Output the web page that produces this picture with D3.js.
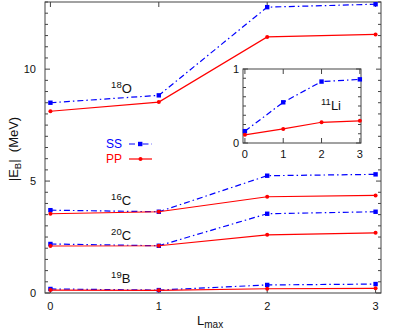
<!DOCTYPE html>
<html>
<head>
<meta charset="utf-8">
<script src="https://cdn.jsdelivr.net/npm/d3@7"></script>
<style>
  body { margin: 0; background: #fff; }
  svg { display: block; font-family: 'Liberation Sans', Arial, sans-serif; }
</style>
</head>
<body>
<div id="chart"></div>
<script>
// L_max values
const lmax = [0, 1, 2, 3];

// binding energies |E_B| (MeV), SS = blue dash-dot, PP = red solid
const nuclei = ['18O', '16C', '20C', '19B'];
const ssO18 = [8.50, 8.83, 12.77, 12.90];
const ppO18 = [8.12, 8.53, 11.44, 11.55];
const ssC16 = [3.70, 3.63, 5.24, 5.30];
const ppC16 = [3.54, 3.63, 4.30, 4.36];
const ssC20 = [2.19, 2.11, 3.54, 3.63];
const ppC20 = [2.10, 2.11, 2.60, 2.69];
const ssB19 = [0.18, 0.13, 0.36, 0.40];
const ppB19 = [0.13, 0.12, 0.19, 0.21];

// inset: 11Li
const ssLi11 = [0.16, 0.55, 0.83, 0.86];
const ppLi11 = [0.11, 0.19, 0.28, 0.30];

const yTicks = [0, 5, 10];
const xTicks = [0, 1, 2, 3];

const W = 396, H = 332;
const BLUE = '#0000ff', RED = '#ff0000', AX = '#444';
const DASH = '6,3,1.5,3';

const svg = d3.select('#chart').append('svg')
  .attr('width', W).attr('height', H);

function panel(g, x, y, opts) {
  const [x0, x1] = x.range();
  const [y0, y1] = y.range();
  // frame
  g.append('rect').attr('x', x0).attr('y', y1).attr('width', x1 - x0).attr('height', y0 - y1)
    .attr('fill', '#fff').attr('stroke', AX).attr('stroke-width', 1);
  // y ticks both sides
  opts.yMinor.forEach(v => {
    const len = opts.yMajor.includes(v) ? 5 : 3;
    g.append('line').attr('x1', x0).attr('x2', x0 + len).attr('y1', y(v)).attr('y2', y(v)).attr('stroke', AX);
    g.append('line').attr('x1', x1).attr('x2', x1 - len).attr('y1', y(v)).attr('y2', y(v)).attr('stroke', AX);
  });
  opts.yMajor.forEach(v => {
    g.append('text').attr('x', x0 - opts.yLabGap).attr('y', y(v)).attr('dy', '0.35em')
      .attr('text-anchor', 'end').attr('font-size', opts.fs).attr('fill', '#111').text(v);
  });
  xTicks.forEach(v => {
    g.append('line').attr('x1', x(v)).attr('x2', x(v)).attr('y1', y0).attr('y2', y0 - 5).attr('stroke', AX);
    g.append('line').attr('x1', x(v)).attr('x2', x(v)).attr('y1', y1).attr('y2', y1 + 5).attr('stroke', AX);
    g.append('text').attr('x', x(v)).attr('y', y0 + opts.xLabGap)
      .attr('text-anchor', 'middle').attr('font-size', opts.fs).attr('fill', '#111').text(v);
  });
}

function series(g, x, y, vals, kind) {
  const line = d3.line().x((d, i) => x(lmax[i])).y(d => y(d));
  const blue = kind === 'ss';
  g.append('path').attr('d', line(vals)).attr('fill', 'none')
    .attr('stroke', blue ? BLUE : RED).attr('stroke-width', 1.2)
    .attr('stroke-dasharray', blue ? DASH : null);
  vals.forEach((v, i) => {
    if (blue) {
      g.append('rect').attr('x', x(lmax[i]) - 2.2).attr('y', y(v) - 2.2)
        .attr('width', 4.4).attr('height', 4.4).attr('fill', BLUE);
    } else {
      g.append('circle').attr('cx', x(lmax[i])).attr('cy', y(v)).attr('r', 2).attr('fill', RED);
    }
  });
}

// main panel
const x = d3.scaleLinear().domain([-0.05, 3.05]).range([45, 381]);
const y = d3.scaleLinear().domain([0, 13]).range([293, 2]);
const main = svg.append('g');
panel(main, x, y, { yMajor: yTicks, yMinor: d3.range(0, 13.01, 0.5), fs: 11, yLabGap: 9, xLabGap: 17 });

const pairs = [[ssO18, ppO18], [ssC16, ppC16], [ssC20, ppC20], [ssB19, ppB19]];
pairs.forEach(([s, p]) => { series(main, x, y, s, 'ss'); series(main, x, y, p, 'pp'); });

// nucleus labels
const labelY = [8.95, 3.93, 2.37, 0.45];
nuclei.forEach((n, i) => {
  const m = n.match(/^(\d+)(\D+)$/);
  const t = main.append('text').attr('x', x(0.56)).attr('y', y(labelY[i]))
    .attr('font-size', 13).attr('fill', '#111');
  t.append('tspan').attr('font-size', 9.5).attr('dy', -5).text(m[1]);
  t.append('tspan').attr('dy', 5).text(m[2]);
});

// legend
[['SS', BLUE, 'ss', 144], ['PP', RED, 'pp', 159]].forEach(([lab, col, kind, ly]) => {
  main.append('text').attr('x', 122).attr('y', ly).attr('dy', '0.35em')
    .attr('text-anchor', 'end').attr('font-size', 12).attr('fill', col).text(lab);
  main.append('line').attr('x1', 129).attr('x2', 152).attr('y1', ly).attr('y2', ly)
    .attr('stroke', col).attr('stroke-width', 1.2).attr('stroke-dasharray', kind === 'ss' ? DASH : null);
  if (kind === 'ss') main.append('rect').attr('x', 138).attr('y', ly - 2.2).attr('width', 4.4).attr('height', 4.4).attr('fill', col);
  else main.append('circle').attr('cx', 140.5).attr('cy', ly).attr('r', 2).attr('fill', col);
});

// axis titles
const yl = svg.append('text').attr('transform', 'translate(18,149) rotate(-90)')
  .attr('text-anchor', 'middle').attr('font-size', 13).attr('fill', '#111')
  .attr('xml:space', 'preserve');
yl.append('tspan').text('|E');
yl.append('tspan').attr('font-size', 9.5).attr('dy', 3).text('B');
yl.append('tspan').attr('dy', -3).text('|\u00a0\u00a0(MeV)');

const xl = svg.append('text').attr('x', 197).attr('y', 325).attr('font-size', 13).attr('fill', '#111');
xl.append('tspan').text('L');
xl.append('tspan').attr('font-size', 10).attr('dy', 3).text('max');

// inset 11Li
const xi = d3.scaleLinear().domain([-0.05, 3.03]).range([243, 361]);
const yi = d3.scaleLinear().domain([0, 1]).range([143, 69]);
const inset = svg.append('g');
panel(inset, xi, yi, { yMajor: [0, 1], yMinor: d3.range(0, 1.001, 0.125), fs: 11, yLabGap: 4, xLabGap: 15 });
series(inset, xi, yi, ssLi11, 'ss');
series(inset, xi, yi, ppLi11, 'pp');
const li = inset.append('text').attr('x', 321).attr('y', yi(0.45)).attr('font-size', 13).attr('fill', '#111');
li.append('tspan').attr('font-size', 9.5).attr('dy', -5).text('11');
li.append('tspan').attr('dy', 5).text('Li');
</script>
</body>
</html>
